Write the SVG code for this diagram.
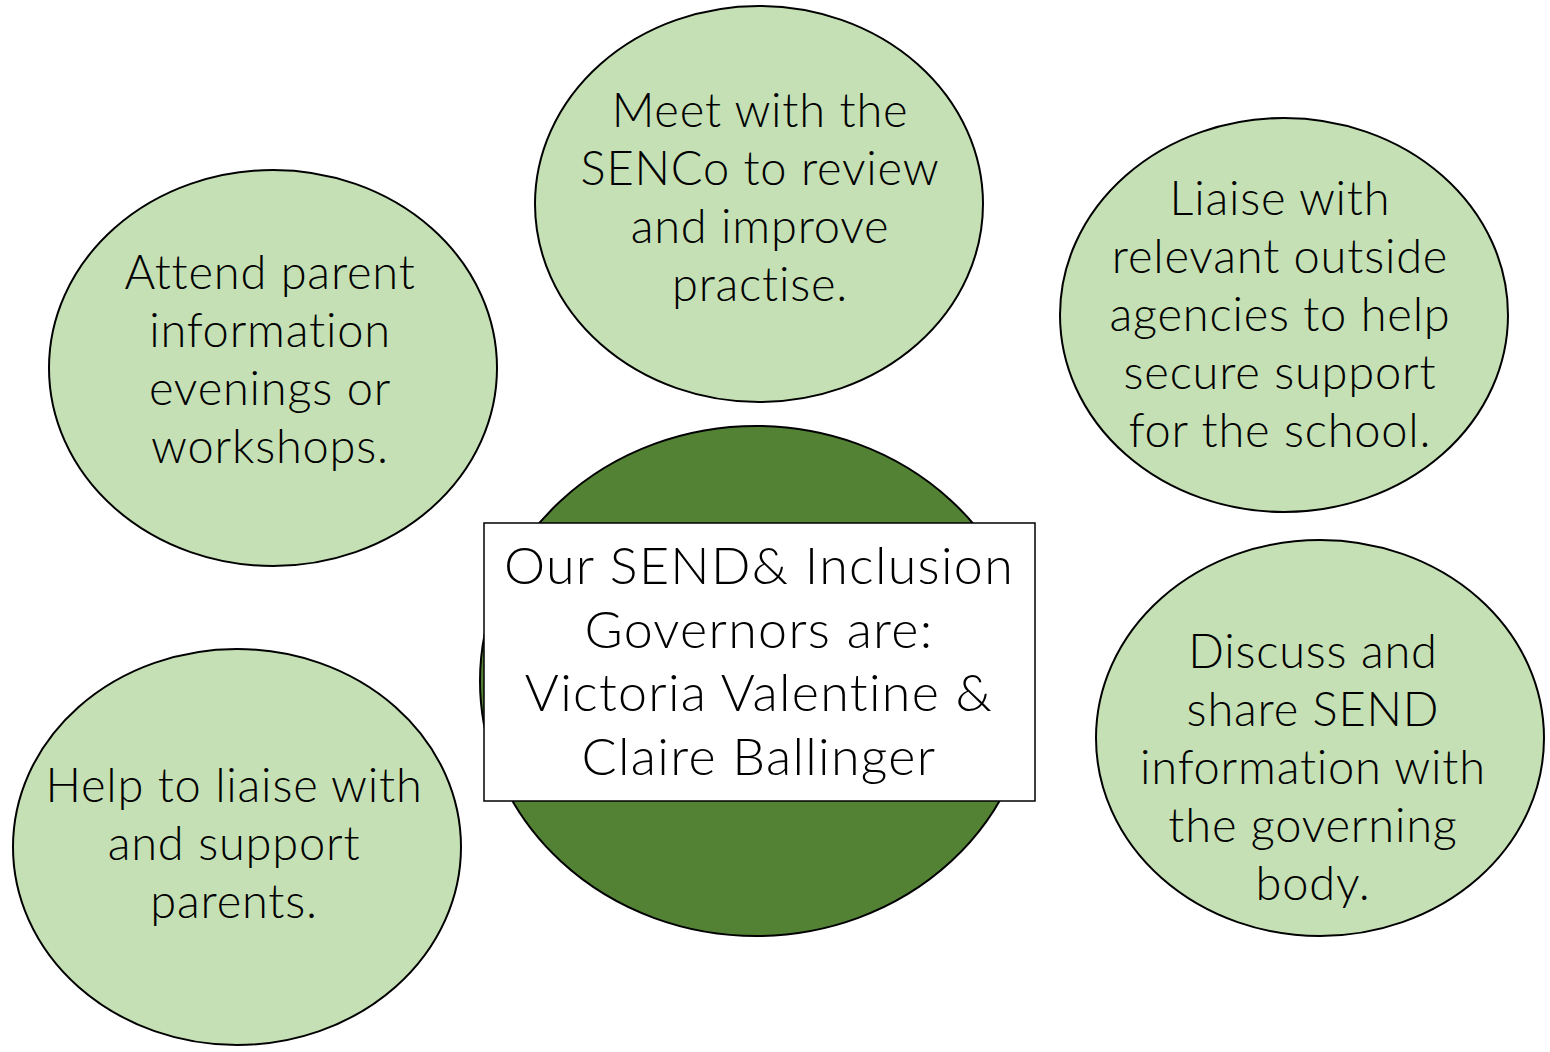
<svg xmlns="http://www.w3.org/2000/svg" width="1550" height="1052" viewBox="0 0 1550 1052">
  <style>
    .bubble { fill: #C5E0B4; stroke: #000; stroke-width: 2; }
    .hub { fill: #548235; stroke: #000; stroke-width: 2; }
    .card { fill: #fff; stroke: #000; stroke-width: 1.5; }
    text { font-family: "Lato", "Liberation Sans", sans-serif; font-weight: 300; fill: #000; text-anchor: middle; font-variant-ligatures: none; }
    .t { font-size: 47px; letter-spacing: 0.8px; }
    .c { font-size: 52px; letter-spacing: 1.3px; }
  </style>
  <rect width="1550" height="1052" fill="#fff"/>

  <g id="connectors"/>

  <g id="hub">
    <ellipse class="hub" cx="756" cy="681" rx="276" ry="255"/>
    <rect class="card" x="484" y="523" width="551" height="278"/>
    <text class="c" x="759" y="584">Our SEND&amp; Inclusion</text>
    <text class="c" x="759" y="648">Governors are:</text>
    <text class="c" x="759" y="711">Victoria Valentine &amp;</text>
    <text class="c" x="759" y="775">Claire Ballinger</text>
  </g>

  <g id="senco">
    <ellipse class="bubble" cx="759" cy="204" rx="224" ry="198"/>
    <text class="t" x="760" y="127">Meet with the</text>
    <text class="t" x="760" y="185">SENCo to review</text>
    <text class="t" x="760" y="243">and improve</text>
    <text class="t" x="760" y="301">practise.</text>
  </g>

  <g id="parent-evenings">
    <ellipse class="bubble" cx="273" cy="368" rx="224" ry="198"/>
    <text class="t" x="270" y="289">Attend parent</text>
    <text class="t" x="270" y="347">information</text>
    <text class="t" x="270" y="405">evenings or</text>
    <text class="t" x="270" y="463">workshops.</text>
  </g>

  <g id="outside-agencies">
    <ellipse class="bubble" cx="1284" cy="315" rx="224" ry="197"/>
    <text class="t" x="1280" y="215">Liaise with</text>
    <text class="t" x="1280" y="273">relevant outside</text>
    <text class="t" x="1280" y="331">agencies to help</text>
    <text class="t" x="1280" y="389">secure support</text>
    <text class="t" x="1280" y="447">for the school.</text>
  </g>

  <g id="governing-body">
    <ellipse class="bubble" cx="1320" cy="738" rx="224" ry="198"/>
    <text class="t" x="1313" y="668">Discuss and</text>
    <text class="t" x="1313" y="726">share SEND</text>
    <text class="t" x="1313" y="784">information with</text>
    <text class="t" x="1313" y="842">the governing</text>
    <text class="t" x="1313" y="900">body.</text>
  </g>

  <g id="support-parents">
    <ellipse class="bubble" cx="237" cy="847" rx="224" ry="198"/>
    <text class="t" x="234" y="802">Help to liaise with</text>
    <text class="t" x="234" y="860">and support</text>
    <text class="t" x="234" y="918">parents.</text>
  </g>
</svg>
